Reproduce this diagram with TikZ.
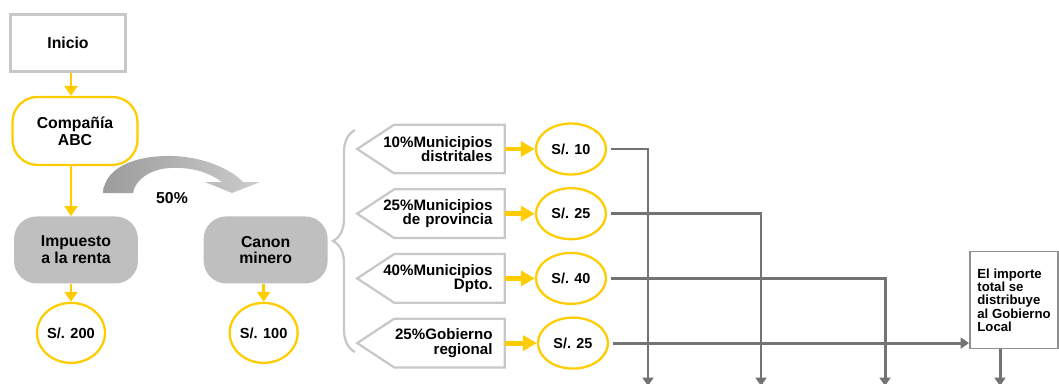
\documentclass[tikz,border=0pt]{standalone}
\usepackage{fontspec}
\setmainfont{Liberation Sans}
\usetikzlibrary{positioning,arrows.meta,shapes.geometric,decorations.pathreplacing}

\definecolor{oro}{HTML}{FFCC00}
\definecolor{gris}{HTML}{BFBFBF}
\definecolor{grisborde}{HTML}{C8C8C8}
\definecolor{grislinea}{HTML}{737373}

\begin{document}
\begin{tikzpicture}[
    x=0.02cm, y=-0.02cm,
    every node/.style={font=\bfseries},
    startbox/.style={draw=grisborde, line width=1.5pt, minimum width=2.3cm, minimum height=1.14cm,
        font=\fontsize{9}{9.5}\selectfont\bfseries},
    yellowbox/.style={draw=oro, line width=1.3pt, fill=white, rounded corners=0.5cm,
        minimum width=2.5cm, minimum height=1.36cm, align=center, font=\fontsize{9}{9.5}\selectfont\bfseries},
    graybox/.style={fill=gris, rounded corners=0.45cm, minimum width=2.48cm, minimum height=1.34cm,
        align=center, font=\fontsize{9}{9.5}\selectfont\bfseries},
    amount/.style={draw=oro, line width=1.3pt, ellipse, minimum width=1.36cm, minimum height=1.2cm,
        inner sep=0pt, font=\fontsize{8.3}{9}\selectfont\bfseries},
    value/.style={draw=oro, line width=1.3pt, ellipse, minimum width=1.4cm, minimum height=1.02cm,
        inner sep=0pt, font=\fontsize{8.2}{9}\selectfont\bfseries},
    share/.style={text width=2.46cm, inner xsep=0.24cm, inner ysep=0pt, minimum height=0.96cm,
        align=right, font=\fontsize{8.6}{8.3}\selectfont\bfseries},
    sharebox/.style={draw=grisborde, line width=1.3pt},
    localbox/.style={draw=grislinea!80, line width=1.1pt, fill=white, minimum width=1.76cm,
        minimum height=1.94cm, align=left, font=\fontsize{7.5}{7.6}\selectfont\bfseries},
    yarrow/.style={draw=oro, line width=1.7pt, -{Triangle[length=0.2cm,width=0.26cm]}},
    fatarrow/.style={draw=oro, line width=2.8pt, -{Triangle[length=0.28cm,width=0.3cm]}},
    garrow/.style={draw=grislinea, line width=1.7pt, shorten <=2pt, -{Triangle[length=0.17cm,width=0.22cm]}}
]
\useasboundingbox (0,0) rectangle (1059,383);
\clip (0,0) rectangle (1059,383);

% columna izquierda
\node[startbox] (inicio) at (68,43) {Inicio};
\node[yellowbox, below=0.46cm of inicio, xshift=0.14cm] (compania) {Compañía\\ABC};
\node[graybox, below=1.0cm of compania, xshift=0.02cm] (impuesto) {Impuesto\\a la renta};
\node[amount, below=0.36cm of impuesto, xshift=-0.1cm] (s200) {S/. 200};

% canon minero
\node[graybox, right=1.3cm of impuesto] (canon) {Canon\\minero};
\node[amount, below=0.36cm of canon, xshift=-0.04cm] (s100) {S/. 100};

% flechas amarillas
\draw[yarrow] (inicio.south -| s200) -- (compania.north -| s200);
\draw[yarrow] (compania.south -| s200) -- (impuesto.north -| s200);
\draw[yarrow] (impuesto.south -| s200) -- (s200);
\draw[yarrow] (canon.south -| s100) -- (s100);

% flecha curva 50%
\shade[left color=gray!78, right color=gray!40]
    (103,193) .. controls (105,165) and (140,155) .. (173,156)
    .. controls (205,157) and (232,170) .. (243,182) -- (260,182) -- (232,193) -- (205,182) -- (222,182)
    .. controls (208,172) and (192,167) .. (170,168)
    .. controls (150,169) and (135,180) .. (133,193) -- cycle;
\node[font=\fontsize{9}{9.5}\selectfont\bfseries] (pct) at (172,198) {50\%};

% llave
\draw[grisborde, line width=1.3pt, decorate, decoration={brace, amplitude=0.44cm}]
    (355,352) -- (355,130);

% distribucion
\node[share] (dist) at (431,149) {10\%Municipios\\distritales};
\node[share, below=0.32cm of dist] (prov) {25\%Municipios\\de provincia};
\node[share, below=0.32cm of prov] (dpto) {40\%Municipios\\Dpto.};
\node[share, below=0.32cm of dpto] (gob) {25\%Gobierno\\regional};

\foreach \n in {dist,prov,dpto,gob}
    \draw[sharebox] (\n.west) -- ([xshift=0.74cm]\n.north west) -- (\n.north east)
        -- (\n.south east) -- ([xshift=0.74cm]\n.south west) -- cycle;

% montos
\node[value, right=0.6cm of dist] (v10) {S/. 10};
\node[value, right=0.6cm of prov] (v25) {S/. 25};
\node[value, right=0.6cm of dpto] (v40) {S/. 40};
\node[value, right=0.64cm of gob] (v25b) {S/. 25};

\draw[fatarrow] (dist.east) -- (v10.west);
\draw[fatarrow] (prov.east) -- (v25.west);
\draw[fatarrow] (dpto.east) -- (v40.west);
\draw[fatarrow] (gob.east) -- (v25b.west);

% gobierno local
\node[localbox] (local) at (1014,300) {El importe\\total se\\distribuye\\al Gobierno\\Local};

\coordinate (d1) at (648,386);
\coordinate (d2) at (761,386);
\coordinate (d3) at (885,386);
\coordinate (d4) at (1000,386);

% lineas grises
\draw[garrow] (v10.east) -| (d1);
\draw[garrow] (v25.east) -| (d2);
\draw[garrow] (v40.east) -| (d3);
\draw[garrow] (v25b.east) -- (v25b.east -| local.west);
\draw[garrow, shorten <=0pt] (local.south -| d4) -- (d4);

\end{tikzpicture}
\end{document}
